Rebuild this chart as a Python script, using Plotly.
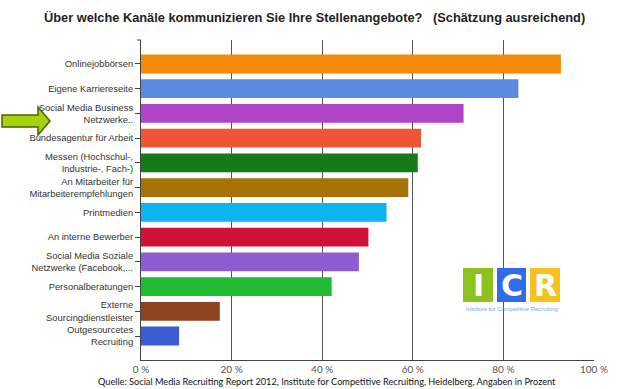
import plotly.graph_objects as go

categories = [
    "Onlinejobbörsen",
    "Eigene Karriereseite",
    "Social Media Business<br>Netzwerke..",
    "Bundesagentur für Arbeit",
    "Messen (Hochschul-,<br>Industrie-, Fach-)",
    "An Mitarbeiter für<br>Mitarbeiterempfehlungen",
    "Printmedien",
    "An interne Bewerber",
    "Social Media Soziale<br>Netzwerke (Facebook,...",
    "Personalberatungen",
    "Externe<br>Sourcingdienstleister",
    "Outgesourcetes<br>Recruiting",
]
values = [92.7, 83.3, 71.2, 61.8, 61.1, 59.0, 54.2, 50.2, 48.1, 42.1, 17.4, 8.4]
colors = ["#F58A0A", "#5B8BE0", "#B044C8", "#EE5535", "#167A16", "#A87208",
          "#0DB4F0", "#D01238", "#8C5CD0", "#20BB30", "#8E4420", "#3A5CD0"]
x_ticks = [0, 20, 40, 60, 80, 100]
x_tick_labels = ["0 %", "20 %", "40 %", "60 %", "80 %", "100 %"]

W, H = 620, 389
L, R, T, B = 141, 594, 40, 360


def px(x):
    return (x - L) / (R - L)


def py(y):
    return (B - y) / (B - T)


fig = go.Figure()
fig.add_trace(go.Bar(
    x=values, y=list(range(len(categories))), orientation="h",
    marker=dict(color=colors, line=dict(width=0)),
    width=0.76, hoverinfo="x",
))

shapes = []
# arrow
pts = [(2, 115), (38, 115), (38, 107), (50, 121), (38, 135), (38, 127), (2, 127)]
path = "M " + " L ".join(f"{px(a):.4f},{py(b):.4f}" for a, b in pts) + " Z"
shapes.append(dict(type="path", path=path, xref="paper", yref="paper",
                   fillcolor="#A6D20A", line=dict(color="#4E5E08", width=1.5), layer="above"))
# top bracket tick
shapes.append(dict(type="line", xref="paper", yref="paper", x0=px(137), x1=px(141),
                   y0=1, y1=1, line=dict(color="#444", width=1)))
# ICR logo squares
logo = [(463, 493, "#8CC21E", "I"), (497, 526, "#2F6CEB", "C"), (530, 560, "#F7C21B", "R")]
annotations = []
for x0, x1, c, letter in logo:
    shapes.append(dict(type="rect", xref="paper", yref="paper", x0=px(x0), x1=px(x1),
                       y0=py(302), y1=py(268), fillcolor=c, line=dict(width=0), layer="above"))
    annotations.append(dict(text=f"<b>{letter}</b>", xref="paper", yref="paper", x=px((x0 + x1) / 2),
                            y=py(285), showarrow=False, xanchor="center", yanchor="middle",
                            font=dict(family="DejaVu Sans", size=30, color="white")))
annotations.append(dict(text="Institute for Competitive Recruiting", xref="paper", yref="paper",
                        x=px(511.5), y=py(309), showarrow=False, xanchor="center", yanchor="middle",
                        font=dict(family="Arial, Liberation Sans", size=6, color="#6FA8E8")))
# title
annotations.append(dict(text="<b>Über welche Kanäle kommunizieren Sie Ihre Stellenangebote?   (Schätzung ausreichend)</b>",
                        xref="paper", yref="paper", x=px(314), y=py(18), showarrow=False,
                        xanchor="center", yanchor="middle",
                        font=dict(family="Liberation Sans, Arial", size=12.8, color="#222")))
# source
annotations.append(dict(text="Quelle: Social Media Recruiting Report 2012, Institute for Competitive Recruiting, Heidelberg, Angaben in Prozent",
                        xref="paper", yref="paper", x=px(96), y=py(381), showarrow=False,
                        xanchor="left", yanchor="middle",
                        font=dict(family="Lato, sans-serif", size=9.2, color="#111")))

fig.update_layout(
    width=W, height=H,
    margin=dict(l=L, r=W - R, t=T, b=H - B, pad=0),
    paper_bgcolor="white", plot_bgcolor="white",
    showlegend=False, bargap=0.24,
    shapes=shapes, annotations=annotations,
    xaxis=dict(range=[0, 100], tickvals=x_ticks, ticktext=x_tick_labels,
               showgrid=True, gridcolor="#555", gridwidth=1, zeroline=False,
               showline=True, linecolor="#444", linewidth=1, ticks="",
               tickfont=dict(family="Lato, sans-serif", size=10, color="#555"),
               fixedrange=True),
    yaxis=dict(range=[11.97, -0.97], tickvals=list(range(len(categories))), ticktext=categories,
               showgrid=False, zeroline=False, showline=True, linecolor="#444", linewidth=1,
               ticks="outside", ticklen=5, tickcolor="#444",
               tickfont=dict(family="Liberation Sans, Arial", size=9.4, color="#333"),
               fixedrange=True),
)

fig.write_html("out.html", config={"displayModeBar": False},
               post_script="document.body.style.margin='0';document.body.style.overflow='hidden';")
